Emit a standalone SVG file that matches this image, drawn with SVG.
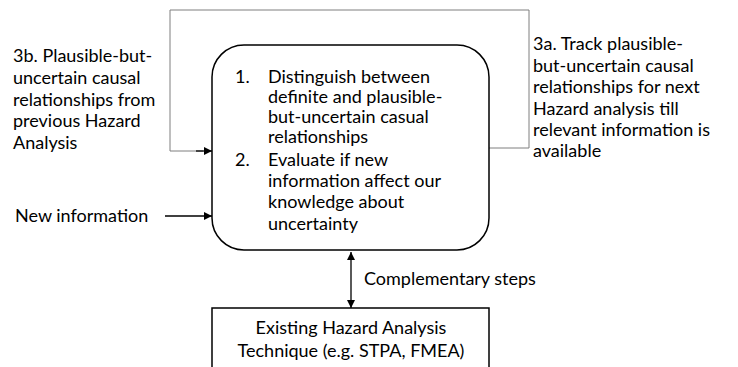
<svg xmlns="http://www.w3.org/2000/svg" width="738" height="367" viewBox="0 0 738 367">
<defs>
<style>
text{font-family:Lato,"Liberation Sans",sans-serif;font-size:18px;fill:#000}
.box{fill:#fff;stroke:#000;stroke-width:1.5}
.loop{fill:none;stroke:#7f7f7f;stroke-width:1}
.ln{fill:none;stroke:#000;stroke-width:1.3}
</style>
<marker id="ah" viewBox="0 0 10 10" refX="10" refY="5" markerWidth="8" markerHeight="8" markerUnits="userSpaceOnUse" orient="auto-start-reverse"><path d="M0,0L10,5L0,10z" fill="#000"/></marker>
</defs>
<rect width="738" height="367" fill="#fff"/>
<g id="connectors">
<polyline class="loop" points="489,148 529,148 529,10 170,10 170,151 203,151"/>
<line class="ln" x1="196" y1="151" x2="212" y2="151" marker-end="url(#ah)"/>
<line class="ln" x1="165" y1="216" x2="212" y2="216" marker-end="url(#ah)"/>
<line class="ln" x1="351" y1="252" x2="351" y2="308" marker-start="url(#ah)" marker-end="url(#ah)"/>
</g>
<g id="main">
<rect class="box" x="212" y="45" width="277" height="205" rx="32" ry="32"/>
<text x="235" y="83">1.</text><text x="268" y="83">Distinguish between</text>
<text x="268" y="103">definite and plausible-</text>
<text x="268" y="123">but-uncertain casual</text>
<text x="268" y="143">relationships</text>
<text x="235" y="166">2.</text><text x="268" y="166">Evaluate if new</text>
<text x="268" y="187">information affect our</text>
<text x="268" y="208">knowledge about</text>
<text x="268" y="230">uncertainty</text>
</g>
<g id="existing">
<rect class="box" x="212" y="308" width="277" height="70"/>
<text x="351" y="334" text-anchor="middle">Existing Hazard Analysis</text>
<text x="351" y="357" text-anchor="middle">Technique (e.g. STPA, FMEA)</text>
</g>
<g id="label-3b">
<text x="13" y="62">3b. Plausible-but-</text>
<text x="13" y="84">uncertain causal</text>
<text x="13" y="106">relationships from</text>
<text x="13" y="127">previous Hazard</text>
<text x="13" y="149">Analysis</text>
</g>
<g id="label-3a">
<text x="533" y="50">3a. Track plausible-</text>
<text x="533" y="72">but-uncertain causal</text>
<text x="533" y="93">relationships for next</text>
<text x="533" y="115">Hazard analysis till</text>
<text x="533" y="136">relevant information is</text>
<text x="533" y="157">available</text>
</g>
<g id="label-new">
<text x="15" y="222">New information</text>
</g>
<g id="label-comp">
<text x="364" y="285">Complementary steps</text>
</g>
</svg>
